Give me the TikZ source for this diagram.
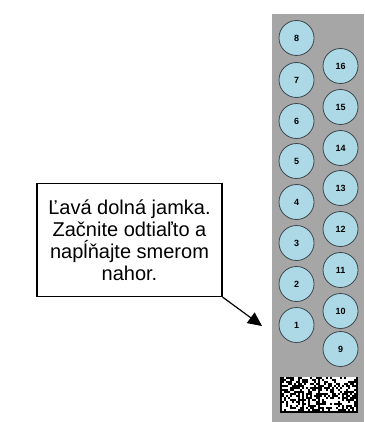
\documentclass[tikz,border=0pt]{standalone}
\usepackage{fontspec}
\setmainfont{Liberation Sans}
\usetikzlibrary{arrows.meta}
\definecolor{stripgray}{RGB}{166,166,166}
\definecolor{wellblue}{RGB}{173,216,230}
\definecolor{wellrim}{RGB}{60,70,75}
\tikzset{
	well/.style={circle,draw=wellrim,line width=0.8pt,fill=wellblue,
		minimum size=35pt,inner sep=0pt,font=\bfseries\fontsize{9}{9}\selectfont},
	notebox/.style={draw,line width=1.2pt,fill=white,minimum width=185pt,
		minimum height=113pt,align=center,
		font=\fontsize{20}{22}\selectfont},
}
\begin{document}
\begin{tikzpicture}[x=1pt,y=-1pt]

	\useasboundingbox (0,0) rectangle (364,422);

	% Tira
	\fill[stripgray] (272,14) rectangle (364,422);

	% Jamky
	\node[well] (w1) at (296.5,325) {1};
	\node[well] (w2) at (296.5,284) {2};
	\node[well] (w3) at (296.5,243) {3};
	\node[well] (w4) at (296.5,202) {4};
	\node[well] (w5) at (296.5,161) {5};
	\node[well] (w6) at (296.5,121) {6};
	\node[well] (w7) at (296.5,80) {7};
	\node[well] (w8) at (296.5,38) {8};

	\node[well] (w9) at (340.5,349) {9};
	\node[well] (w10) at (340.5,311) {10};
	\node[well] (w11) at (340.5,270) {11};
	\node[well] (w12) at (340.5,229) {12};
	\node[well] (w13) at (340.5,188) {13};
	\node[well] (w14) at (340.5,148) {14};
	\node[well] (w15) at (340.5,107) {15};
	\node[well] (w16) at (340.5,66) {16};

	% Kod
	\fill[white] (280,377) rectangle (358,413);
	\pgfmathsetseed{17}
	\foreach \i in {0,...,38}{
		\foreach \j in {0,...,17}{
			\pgfmathrandominteger{\bit}{0}{1}
			\ifnum\bit=1
				\fill[black] (280+2*\i,377+2*\j) rectangle ++(2,2);
			\fi
		}
	}
	\fill[black] (280,377) rectangle (282,413);
	\fill[black] (280,411) rectangle (358,413);
	\fill[black] (318,377) rectangle (320,413);
	\fill[black] (356,377) rectangle (358,413);

	% Popis
	\node[notebox] (note) at (129.5,240) {Ľavá dolná jamka.\\Začnite odtiaľto a\\napĺňajte smerom\\nahor.};
	\coordinate (tip) at (262,326);
	\draw[line width=1.2pt,-{Triangle[length=14pt,width=13pt]}] (note.south east) -- (tip);

\end{tikzpicture}
\end{document}
